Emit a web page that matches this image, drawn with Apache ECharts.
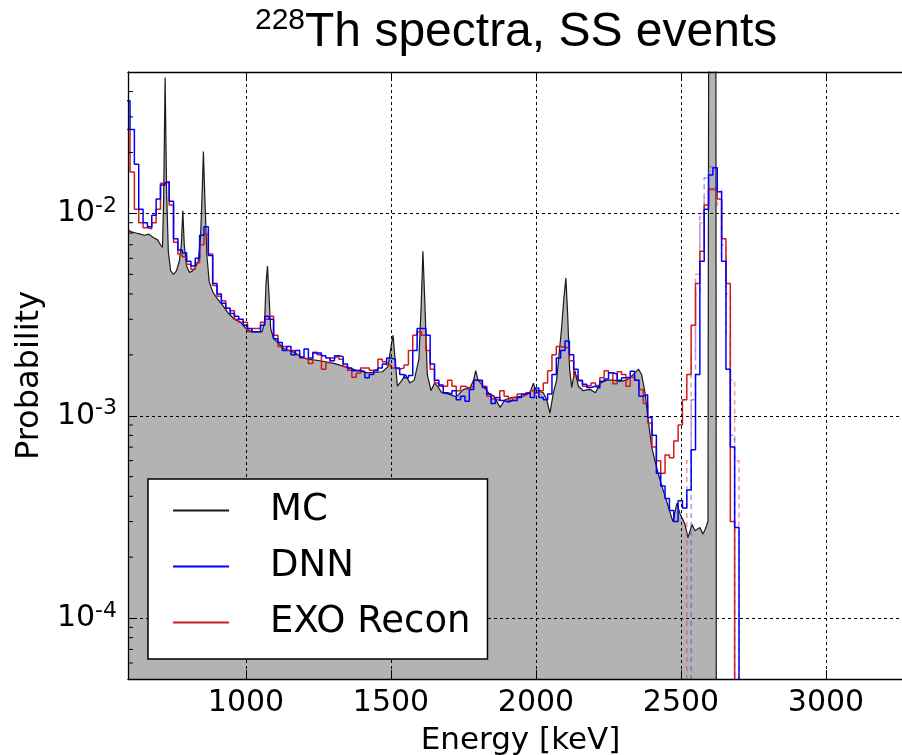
<!DOCTYPE html>
<html><head><meta charset="utf-8">
<script src="https://cdn.jsdelivr.net/npm/echarts@6/dist/echarts.min.js"></script>
<style>html,body{margin:0;padding:0;background:#fff}#c{width:902px;height:755px}</style>
</head><body><div id="c"></div>
<script>
// ---- histogram binning (keV) ----
const BIN_START = 585, BIN_WIDTH = 15;

// DNN reconstructed spectrum, probability per bin (bins start at 585 keV, 15 keV wide)
const dnn = [0.036,0.026,0.0175,0.0105,0.0090,0.0086,0.0098,0.0118,0.0138,0.0142,
0.0115,0.0075,0.0066,0.0064,0.0058,0.0055,0.0060,0.0078,0.0086,0.0062,
0.0045,0.0040,0.0036,0.0034,0.0032,0.0031,0.0030,0.0028,0.0027,0.0026,
0.0026,0.0028,0.0031,0.0030,0.0024,0.0023,0.0021,0.0022,0.0020,0.0021,
0.00195,0.00214,0.00193,0.00204,0.00204,0.00198,0.00193,0.00187,0.00198,0.00196,
0.0018,0.00172,0.00167,0.00168,0.00165,0.00154,0.0016,0.00167,0.00172,0.0018,
0.00193,0.0019,0.00172,0.0016,0.00154,0.00158,0.0021,0.0027,0.0027,0.0025,
0.0018,0.0015,0.00142,0.0013,0.00128,0.00133,0.0012,0.00125,0.00118,0.00135,
0.0015,0.0015,0.00138,0.00128,0.00115,0.00123,0.00119,0.00117,0.00119,0.00119,
0.00123,0.00128,0.0013,0.00123,0.00137,0.00123,0.0012,0.00128,0.0016,0.00193,
0.0021,0.00234,0.0020,0.0017,0.0015,0.00143,0.00138,0.0014,0.00137,0.00148,
0.00152,0.00163,0.00161,0.0015,0.00154,0.00155,0.00166,0.0015,0.00125,0.00127,
0.00098,0.0008,0.00052,0.00045,0.00039,0.00034,0.0003,0.00038,0.00035,0.00043,
0.00068,0.0016,0.0058,0.0105,0.0155,0.0168,0.0128,0.0058,0.0017,0.0007,
0.00028,0];

// EXO Recon spectrum, same binning
const exo = [0.026,0.016,0.0105,0.0090,0.0085,0.0084,0.0090,0.0105,0.0141,0.0144,
0.0110,0.0072,0.0063,0.0061,0.0056,0.0053,0.0057,0.0070,0.0079,0.0063,
0.0044,0.0039,0.0037,0.0034,0.0033,0.0030,0.0029,0.0029,0.0026,0.0027,
0.0027,0.0029,0.0030,0.0031,0.0025,0.0022,0.0022,0.0021,0.0021,0.0020,
0.00193,0.0019,0.00181,0.00206,0.0020,0.0017,0.00183,0.00193,0.00197,0.0019,
0.00175,0.00168,0.00155,0.00162,0.00172,0.00172,0.00168,0.0017,0.0019,0.00185,
0.00178,0.00172,0.0017,0.00172,0.00178,0.0021,0.0025,0.0026,0.0025,0.0021,
0.0017,0.00145,0.0014,0.0014,0.0015,0.0014,0.00133,0.0014,0.00137,0.0014,
0.0015,0.00148,0.0014,0.00125,0.00121,0.00119,0.00133,0.00125,0.00119,0.00123,
0.00128,0.00126,0.0013,0.00133,0.0013,0.00133,0.00145,0.00167,0.0020,0.0022,
0.00218,0.00216,0.00187,0.00157,0.00149,0.0014,0.00141,0.00145,0.00141,0.00154,
0.00167,0.00163,0.00144,0.00165,0.0016,0.0014,0.00155,0.0015,0.00135,0.00115,
0.00092,0.0007,0.0006,0.00052,0.00064,0.00062,0.00075,0.0009,0.0012,0.0016,
0.0028,0.0045,0.0065,0.011,0.0132,0.0133,0.0118,0.0075,0.0045,0.0003,
0,0];

// faint dashed companion histograms around the 2615 keV peak
const dnnAltStart = 2520;
const dnnAlt = [0,0.0012,0.004,0.010,0.015,0.017,0.017,0.013,0.006,0.0025,0.0008,0];
const exoAltStart = 2505;
const exoAlt = [0,0.0006,0.002,0.005,0.009,0.012,0.013,0.013,0.011,0.007,0.004,0.0015,0.0006,0];

// MC spectrum (energy keV, probability)
const mcEnergy = [593,605,620,635,650,665,680,695,705,712,
716,721,726,732,740,750,760,770,777,782,
787,795,805,815,825,835,843,849,853,858,
865,873,885,900,920,940,960,980,1000,1020,
1040,1055,1064,1069,1074,1079,1085,1095,1110,1130,
1150,1170,1190,1220,1255,1300,1340,1380,1420,1470,
1490,1500,1507,1514,1522,1535,1550,1565,1580,1596,
1604,1610,1617,1625,1638,1650,1660,1675,1700,1725,
1750,1772,1785,1792,1800,1818,1840,1855,1876,1893,
1916,1956,1979,1991,1997,2025,2037,2048,2060,2071,
2088,2096,2103,2109,2116,2123,2134,2146,2163,2186,
2205,2221,2244,2267,2290,2313,2336,2353,2364,2376,
2387,2399,2410,2421,2438,2455,2472,2486,2496,2514,
2524,2538,2548,2565,2576,2586,2593,2596,2620,2624];
const mcProb = [0.0083,0.0081,0.0080,0.0079,0.0078,0.0079,0.0076,0.0074,0.0070,0.0068,
0.012,0.047,0.013,0.0065,0.0052,0.0050,0.0052,0.0058,0.0070,0.0103,
0.0070,0.0055,0.0051,0.0052,0.0054,0.0058,0.0075,0.013,0.0202,0.012,
0.0062,0.0046,0.0041,0.0038,0.0035,0.0032,0.0030,0.0029,0.0027,0.0026,
0.0026,0.0026,0.0029,0.0045,0.0055,0.0040,0.0027,0.0024,0.0023,0.00215,
0.0021,0.00205,0.00195,0.0019,0.00187,0.00182,0.00175,0.00168,0.00163,0.00165,
0.00175,0.0022,0.0025,0.0019,0.0014,0.00148,0.0016,0.00145,0.0015,0.0019,
0.0035,0.0065,0.0035,0.0016,0.00133,0.00145,0.0014,0.0013,0.00128,0.00124,
0.00135,0.00137,0.0015,0.00167,0.0015,0.0014,0.00128,0.00125,0.0011,0.0012,
0.00123,0.00125,0.0013,0.00145,0.00135,0.0013,0.0012,0.00103,0.0013,0.0015,
0.0027,0.0038,0.0048,0.0032,0.0017,0.00138,0.00167,0.0014,0.00133,0.00135,
0.0013,0.00145,0.0015,0.0015,0.00148,0.0015,0.0016,0.0017,0.0016,0.0013,
0.00095,0.0007,0.0006,0.00052,0.00043,0.00036,0.0003,0.00037,0.00033,0.00029,
0.00025,0.00029,0.00027,0.00028,0.00026,0.00028,0.0003,0.3,0.3,0];

// axis ticks
const xTicks = [1000,1500,2000,2500,3000];
const yMinorTicks = [6e-5,7e-5,8e-5,9e-5,2e-4,3e-4,4e-4,5e-4,6e-4,7e-4,8e-4,9e-4,
2e-3,3e-3,4e-3,5e-3,6e-3,7e-3,8e-3,9e-3,2e-2,3e-2,4e-2];
const X_MIN = 593, X_MAX = 3300, Y_MIN = 5e-5, Y_MAX = 0.05;

const FLOOR = 1e-9; // empty bins sit far below the log axis
const pos = v => (v > 0 ? v : FLOOR);
const hist = (start, vals) => vals.map((v, i) => [start + BIN_WIDTH * i, pos(v)]);
const mcData = mcEnergy.map((e, i) => [e, pos(mcProb[i])]);

const FONT = 'DejaVu Sans';
const chart = echarts.init(document.getElementById('c'), null, {renderer: 'canvas', width: 902, height: 755});
const gridLine = {show: true, lineStyle: {color: '#000', type: [3, 3], width: 1}};

chart.setOption({
  animation: false,
  backgroundColor: '#fff',
  title: {
    text: '{s|228}{m|Th spectra, SS events}',
    left: 255, top: 6, padding: 0,
    textStyle: {
      fontWeight: 'normal',
      rich: {
        s: {fontFamily: 'Liberation Sans', fontWeight: 'normal', fontSize: 30, lineHeight: 30, verticalAlign: 'top', color: '#000'},
        m: {fontFamily: 'Liberation Sans', fontWeight: 'normal', fontSize: 48, lineHeight: 54, color: '#000'}
      }
    }
  },
  grid: {left: 128, top: 72, width: 785, height: 607, containLabel: false, outerBoundsMode: 'none'},
  legend: {
    data: ['MC', 'DNN', 'EXO Recon'],
    orient: 'vertical', left: 148, top: 479,
    padding: [13, 17, 18, 25],
    itemGap: 19, itemWidth: 56, itemHeight: 2, icon: 'rect',
    backgroundColor: '#fff', borderColor: '#000', borderWidth: 1.5, borderRadius: 0,
    textStyle: {fontFamily: FONT, fontSize: 37, lineHeight: 37, color: '#000', padding: [0, 0, 0, 36]},
    selectedMode: false, z: 20
  },
  xAxis: [{
    type: 'value', min: X_MIN, max: X_MAX, position: 'bottom', z: 5,
    name: 'Energy [keV]', nameLocation: 'middle', nameGap: 46,
    nameTextStyle: {fontFamily: FONT, fontSize: 31, color: '#000'},
    axisLine: {show: true, onZero: false, lineStyle: {color: '#000', width: 1.3}},
    axisTick: {show: true, inside: true, length: 9, lineStyle: {color: '#000'}, customValues: xTicks},
    axisLabel: {fontFamily: FONT, fontSize: 30, color: '#000', margin: 9, customValues: xTicks,
      formatter: v => (v % 500 === 0 ? String(v) : '')},
    splitLine: gridLine
  }, {
    type: 'value', min: X_MIN, max: X_MAX, position: 'top', z: 5,
    axisLine: {show: true, onZero: false, lineStyle: {color: '#000', width: 1.3}},
    axisTick: {show: true, inside: true, length: 9, lineStyle: {color: '#000'}, customValues: xTicks},
    axisLabel: {show: false}, splitLine: {show: false}
  }],
  yAxis: [{
    type: 'log', min: Y_MIN, max: Y_MAX, position: 'left', z: 5,
    name: 'Probability', nameLocation: 'middle', nameGap: 80,
    nameTextStyle: {fontFamily: FONT, fontSize: 32, color: '#000'},
    axisLine: {show: true, onZero: false, lineStyle: {color: '#000', width: 1.3}},
    axisTick: {show: true, inside: true, length: 9, lineStyle: {color: '#000'}},
    axisLabel: {
      margin: 11, showMinLabel: false, showMaxLabel: false,
      formatter: v => {
        const l = Math.log10(v), e = Math.round(l);
        if (Math.abs(l - e) > 0.01) return '';
        return '{b|10}{s|' + e + '}';
      },
      rich: {
        b: {fontFamily: FONT, fontSize: 30, lineHeight: 36, color: '#000'},
        s: {fontFamily: FONT, fontSize: 22, lineHeight: 20, verticalAlign: 'top', color: '#000'}
      }
    },
    splitLine: gridLine
  }],
  series: [
    {name: 'MC', type: 'line', data: mcData, symbol: 'none', z: 1,
      lineStyle: {color: '#1a1a1a', width: 1.2}, itemStyle: {color: '#1a1a1a'},
      areaStyle: {color: '#b3b3b3', opacity: 1, origin: 'start'}},
    {name: 'exoAlt', type: 'line', step: 'end', data: hist(exoAltStart, exoAlt), symbol: 'none', z: 2,
      lineStyle: {color: 'rgba(225,70,70,0.55)', width: 1.5, type: [5, 4]}},
    {name: 'dnnAlt', type: 'line', step: 'end', data: hist(dnnAltStart, dnnAlt), symbol: 'none', z: 2,
      lineStyle: {color: 'rgba(70,70,255,0.55)', width: 1.5, type: [5, 4]}},
    {name: 'EXO Recon', type: 'line', step: 'end', data: hist(BIN_START, exo), symbol: 'none', z: 3,
      lineStyle: {color: '#d01c1c', width: 1.5}, itemStyle: {color: '#d01c1c'}},
    {name: 'DNN', type: 'line', step: 'end', data: hist(BIN_START, dnn), symbol: 'none', z: 4,
      lineStyle: {color: '#0000ff', width: 1.5}, itemStyle: {color: '#0000ff'}},
    {name: 'yMinor', type: 'custom', z: 6, silent: true, clip: false,
      data: yMinorTicks.map(v => [X_MIN, v]),
      renderItem: (params, api) => {
        const p = api.coord([api.value(0), api.value(1)]);
        return {type: 'line', shape: {x1: p[0], y1: p[1], x2: p[0] + 5, y2: p[1]},
          style: {stroke: '#000', lineWidth: 1}};
      }}
  ]
});
</script>
</body></html>
